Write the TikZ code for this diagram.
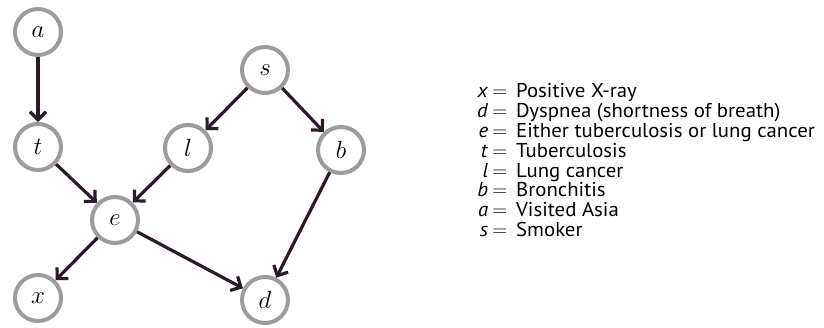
\documentclass[tikz,border=0pt]{standalone}
\usepackage{fontspec}
\newfontfamily\legendfont[FakeStretch=1.04]{PT Sans}
\usetikzlibrary{arrows.meta}
\definecolor{circgray}{HTML}{9C9C9C}
\definecolor{edgecol}{HTML}{2A1A2A}
\begin{document}
\begin{tikzpicture}[x=1pt,y=-1pt,
  var/.style={circle, draw=circgray, line width=4pt, minimum size=46pt, inner sep=0pt, fill=white,
    font=\fontsize{24}{24}\selectfont},
  edge/.style={draw=edgecol, line width=3.2pt, -{Straight Barb[length=8pt,width=16pt]}},
  legend/.style={anchor=west, inner sep=0pt, align=left, font=\legendfont\fontsize{20}{19}\selectfont}]
\useasboundingbox (0,0) rectangle (824,327);
\node[var] (a) at (38,32) {$a$};
\node[var] (t) at (38,147) {$t$};
\node[var] (s) at (265,70) {$s$};
\node[var] (l) at (188,148) {$l$};
\node[var] (b) at (341,150) {$b$};
\node[var] (e) at (115,220) {$e$};
\node[var] (x) at (38,298) {$x$};
\node[var] (d) at (265,300) {$d$};
\draw[edge] (a) -- (t);
\draw[edge] (t) -- (e);
\draw[edge] (l) -- (e);
\draw[edge] (s) -- (l);
\draw[edge] (s) -- (b);
\draw[edge] (b) -- (d);
\draw[edge] (e) -- (x);
\draw[edge] (e) -- (d);
\node[legend] (leg) at (477,163) {%
\begin{tabular}{@{}r@{\hspace{4pt}$=$\hspace{9pt}}l@{}}
\textit{x} & Positive X-ray\\
\textit{d} & Dyspnea (shortness of breath)\\
\textit{e} & Either tuberculosis or lung cancer\\
\textit{t} & Tuberculosis\\
\textit{l} & Lung cancer\\
\textit{b} & Bronchitis\\
\textit{a} & Visited Asia\\
\textit{s} & Smoker
\end{tabular}};
\end{tikzpicture}
\end{document}
